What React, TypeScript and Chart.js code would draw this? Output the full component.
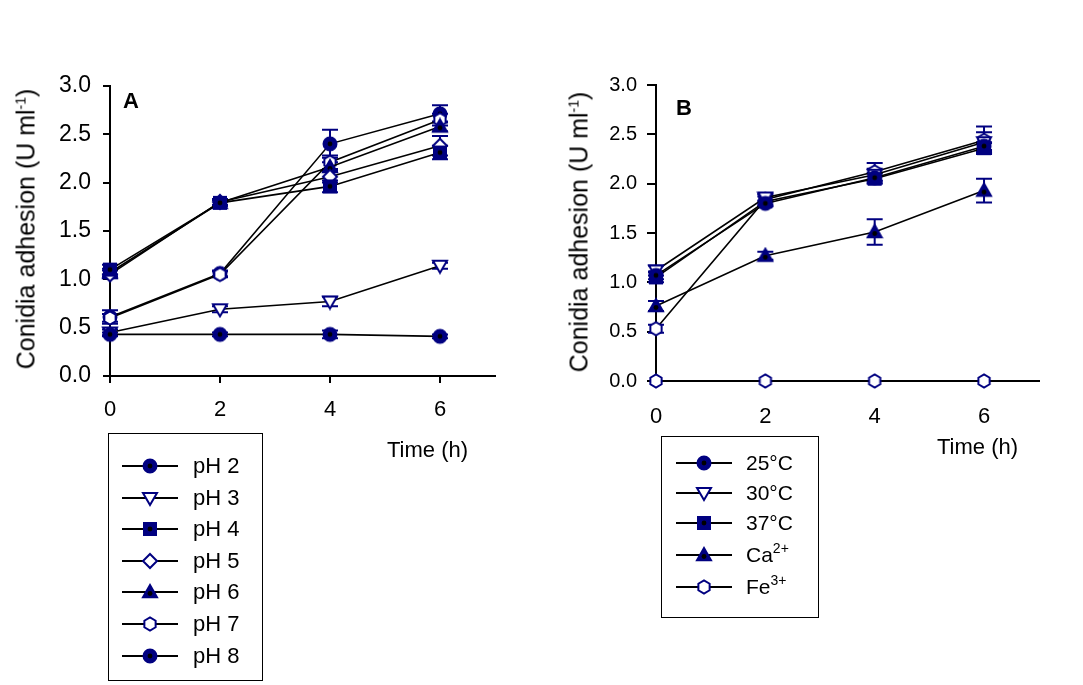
import React, { useEffect, useRef } from "react";
import { Chart, registerables } from "chart.js";
Chart.register(...registerables);

// ---------------- DATA ----------------
const timePoints = [0, 2, 4, 6];
const xTickValues = [0, 2, 4, 6];
const yTickValues = [0, 0.5, 1, 1.5, 2, 2.5, 3];

// Panel A (pH)
const phLabels = ["pH 2", "pH 3", "pH 4", "pH 5", "pH 6", "pH 7", "pH 8"];
const phMarkers = ["circle", "triangleDown", "square", "diamond", "triangle", "hexagon", "circle"];
const pH2 = [0.43, 0.43, 0.43, 0.41];
const pH3 = [0.45, 0.69, 0.77, 1.14];
const pH4 = [1.1, 1.79, 1.96, 2.31];
const pH5 = [1.05, 1.8, 2.06, 2.38];
const pH6 = [1.07, 1.79, 2.16, 2.58];
const pH7 = [0.6, 1.05, 2.21, 2.65];
const pH8 = [0.61, 1.06, 2.4, 2.71];
const pH2Err = [0.02, 0.02, 0.04, 0.02];
const pH3Err = [0.03, 0.03, 0.05, 0.03];
const pH4Err = [0.05, 0.03, 0.06, 0.07];
const pH5Err = [0.04, 0.03, 0.06, 0.1];
const pH6Err = [0.04, 0.03, 0.05, 0.05];
const pH7Err = [0.04, 0.03, 0.07, 0.06];
const pH8Err = [0.07, 0.03, 0.145, 0.09];

// Panel B (temperature / ions)
const condLabels = ["25°C", "30°C", "37°C", "Ca", "Fe"];
const condSup = ["", "", "", "2+", "3+"];
const condMarkers = ["circle", "triangleDown", "square", "triangle", "hexagon"];
const t25 = [1.07, 1.8, 2.06, 2.38];
const t30 = [1.12, 1.86, 2.09, 2.42];
const t37 = [1.05, 1.82, 2.05, 2.36];
const ca = [0.76, 1.27, 1.51, 1.93];
const fe = [0.53, 1.84, 2.12, 2.44];
const control = [0, 0, 0, 0];
const t25Err = [0.04, 0.03, 0.05, 0.04];
const t30Err = [0.05, 0.04, 0.06, 0.1];
const t37Err = [0.05, 0.05, 0.05, 0.05];
const caErr = [0.05, 0.04, 0.13, 0.12];
const feErr = [0.04, 0.05, 0.09, 0.14];
const controlErr = [0, 0, 0, 0];

const NAVY = "#000080";
const FONT = "'Liberation Sans', Arial, sans-serif";

// ---------------- MARKERS ----------------
function drawMarker(ctx: CanvasRenderingContext2D, kind: string, cx: number, cy: number, r: number) {
  ctx.save();
  ctx.lineWidth = 2;
  ctx.strokeStyle = NAVY;
  const filled = kind === "circle" || kind === "square" || kind === "triangle";
  ctx.fillStyle = filled ? NAVY : "#ffffff";
  ctx.beginPath();
  if (kind === "circle") {
    ctx.arc(cx, cy, r - 0.5, 0, Math.PI * 2);
  } else if (kind === "square") {
    ctx.rect(cx - r + 1, cy - r + 1, 2 * r - 2, 2 * r - 2);
  } else if (kind === "triangle") {
    ctx.moveTo(cx, cy - r);
    ctx.lineTo(cx + r, cy + r * 0.75);
    ctx.lineTo(cx - r, cy + r * 0.75);
    ctx.closePath();
  } else if (kind === "triangleDown") {
    ctx.moveTo(cx, cy + r);
    ctx.lineTo(cx + r, cy - r * 0.7);
    ctx.lineTo(cx - r, cy - r * 0.7);
    ctx.closePath();
  } else if (kind === "diamond") {
    ctx.moveTo(cx, cy - r);
    ctx.lineTo(cx + r, cy);
    ctx.lineTo(cx, cy + r);
    ctx.lineTo(cx - r, cy);
    ctx.closePath();
  } else if (kind === "hexagon") {
    for (let i = 0; i < 6; i++) {
      const a = Math.PI / 6 + (i * Math.PI) / 3;
      const px = cx + (r - 0.5) * Math.cos(a);
      const py = cy + (r - 0.5) * Math.sin(a);
      if (i === 0) ctx.moveTo(px, py);
      else ctx.lineTo(px, py);
    }
    ctx.closePath();
  }
  ctx.fill();
  ctx.stroke();
  if (filled) {
    ctx.fillStyle = "#000000";
    ctx.beginPath();
    ctx.arc(cx, kind === "triangle" ? cy + 1.5 : cy, r * 0.35, 0, Math.PI * 2);
    ctx.fill();
  }
  ctx.restore();
}

function markerImage(kind: string, r: number): HTMLCanvasElement {
  const c = document.createElement("canvas");
  const s = 2 * r + 4;
  c.width = s;
  c.height = s;
  const ctx = c.getContext("2d")!;
  drawMarker(ctx, kind, s / 2, s / 2, r);
  return c;
}

// ---------------- PLUGINS ----------------
const errorBarPlugin = {
  id: "errorBars",
  beforeDatasetsDraw(chart: any) {
    const ctx = chart.ctx;
    const xs = chart.scales.x;
    const ys = chart.scales.y;
    ctx.save();
    ctx.strokeStyle = NAVY;
    ctx.lineWidth = 2;
    chart.data.datasets.forEach((ds: any) => {
      const errs: number[] = ds.errors || [];
      ds.data.forEach((pt: any, i: number) => {
        const e = errs[i];
        if (!e) return;
        const x = xs.getPixelForValue(pt.x);
        const yTop = ys.getPixelForValue(pt.y + e);
        const yBot = ys.getPixelForValue(pt.y - e);
        ctx.beginPath();
        ctx.moveTo(x, yTop);
        ctx.lineTo(x, yBot);
        ctx.moveTo(x - 8, yTop);
        ctx.lineTo(x + 8, yTop);
        ctx.moveTo(x - 8, yBot);
        ctx.lineTo(x + 8, yBot);
        ctx.stroke();
      });
    });
    ctx.restore();
  },
};

function makeDataset(label: string, values: number[], errs: number[], kind: string) {
  const img = markerImage(kind, 7);
  return {
    label,
    data: timePoints.map((t, i) => ({ x: t, y: values[i] })),
    errors: errs,
    borderColor: "#000000",
    borderWidth: 1.6,
    pointStyle: img,
    pointRadius: 7,
    pointHoverRadius: 7,
    showLine: true,
    fill: false,
    clip: false,
    tension: 0,
  };
}

function axisOptions(opts: {
  yWidth: number;
  xHeight: number;
  yFont: number;
  xFont: number;
  yPad: number;
  xPad: number;
  yTickLen: number;
}) {
  return {
    x: {
      type: "linear",
      min: 0,
      max: 7,
      afterBuildTicks: (s: any) => {
        s.ticks = xTickValues.map((v) => ({ value: v }));
      },
      afterFit: (s: any) => {
        s.height = opts.xHeight;
      },
      border: { display: true, color: "#000", width: 2 },
      grid: {
        display: true,
        drawOnChartArea: false,
        drawTicks: true,
        tickLength: 7,
        color: "#000",
        lineWidth: 2,
      },
      ticks: {
        color: "#000",
        font: { family: FONT, size: opts.xFont },
        padding: opts.xPad,
        maxRotation: 0,
        callback: (v: any) => String(v),
      },
    },
    y: {
      type: "linear",
      min: 0,
      max: 3,
      afterBuildTicks: (s: any) => {
        s.ticks = yTickValues.map((v) => ({ value: v }));
      },
      afterFit: (s: any) => {
        s.width = opts.yWidth;
      },
      border: { display: true, color: "#000", width: 2 },
      grid: {
        display: true,
        drawOnChartArea: false,
        drawTicks: true,
        tickLength: opts.yTickLen,
        color: "#000",
        lineWidth: 2,
      },
      ticks: {
        color: "#000",
        font: { family: FONT, size: opts.yFont },
        padding: opts.yPad,
        callback: (v: any) => Number(v).toFixed(1),
      },
    },
  };
}

function useChart(ref: React.RefObject<HTMLCanvasElement>, build: () => any) {
  useEffect(() => {
    if (!ref.current) return;
    const chart = new Chart(ref.current, build());
    return () => chart.destroy();
  }, []);
}

// ---------------- LEGEND ROW ----------------
function LegendSymbol({ kind }: { kind: string }) {
  const ref = useRef<HTMLCanvasElement>(null);
  useEffect(() => {
    const c = ref.current;
    if (!c) return;
    const ctx = c.getContext("2d")!;
    ctx.clearRect(0, 0, c.width, c.height);
    ctx.strokeStyle = "#000";
    ctx.lineWidth = 2;
    ctx.beginPath();
    ctx.moveTo(0, 10);
    ctx.lineTo(56, 10);
    ctx.stroke();
    drawMarker(ctx, kind, 28, 10, 7);
  }, [kind]);
  return <canvas ref={ref} width={56} height={20} />;
}

export default function App() {
  const refA = useRef<HTMLCanvasElement>(null);
  const refB = useRef<HTMLCanvasElement>(null);

  useChart(refA, () => ({
    type: "scatter",
    data: {
      datasets: [
        makeDataset(phLabels[0], pH2, pH2Err, phMarkers[0]),
        makeDataset(phLabels[1], pH3, pH3Err, phMarkers[1]),
        makeDataset(phLabels[2], pH4, pH4Err, phMarkers[2]),
        makeDataset(phLabels[3], pH5, pH5Err, phMarkers[3]),
        makeDataset(phLabels[4], pH6, pH6Err, phMarkers[4]),
        makeDataset(phLabels[5], pH7, pH7Err, phMarkers[5]),
        makeDataset(phLabels[6], pH8, pH8Err, phMarkers[6]),
      ],
    },
    options: {
      responsive: false,
      animation: false,
      devicePixelRatio: 1,
      layout: { padding: { left: 0, top: 20.7, right: 25, bottom: 0 } },
      plugins: { legend: { display: false }, tooltip: { enabled: false } },
      scales: axisOptions({ yWidth: 110, xHeight: 74, yFont: 23, xFont: 22, yPad: 12, xPad: 14, yTickLen: 7 }),
    },
    plugins: [errorBarPlugin],
  }));

  useChart(refB, () => ({
    type: "scatter",
    data: {
      datasets: [
        makeDataset("Control", control, controlErr, "hexagon"),
        makeDataset(condLabels[0], t25, t25Err, condMarkers[0]),
        makeDataset(condLabels[1], t30, t30Err, condMarkers[1]),
        makeDataset(condLabels[2], t37, t37Err, condMarkers[2]),
        makeDataset(condLabels[3] + condSup[3], ca, caErr, condMarkers[3]),
        makeDataset(condLabels[4] + condSup[4], fe, feErr, condMarkers[4]),
      ],
    },
    options: {
      responsive: false,
      animation: false,
      devicePixelRatio: 1,
      layout: { padding: { left: 0, top: 25, right: 21.3, bottom: 0 } },
      plugins: { legend: { display: false }, tooltip: { enabled: false } },
      scales: axisOptions({ yWidth: 116, xHeight: 69, yFont: 20, xFont: 22, yPad: 10, xPad: 16, yTickLen: 9 }),
    },
    plugins: [errorBarPlugin],
  }));

  const txt: React.CSSProperties = { fontFamily: FONT, color: "#000", position: "absolute", whiteSpace: "nowrap" };
  const yTitle = (cx: number, cy: number) => (
    <div
      style={{
        ...txt,
        left: cx,
        top: cy,
        fontSize: 25,
        lineHeight: "25px",
        transform: "translate(-50%, -50%) rotate(-90deg)",
      }}
    >
      Conidia adhesion (U ml<sup style={{ fontSize: 14, verticalAlign: "9px", lineHeight: 0 }}>-1</sup>)
    </div>
  );

  return (
    <div style={{ position: "absolute", left: 0, top: 0, width: 1083, height: 685, background: "#fff", overflow: "hidden" }}>
      <canvas ref={refA} width={520} height={390} style={{ position: "absolute", left: 0, top: 60 }} />
      <canvas ref={refB} width={520} height={390} style={{ position: "absolute", left: 540, top: 60 }} />

      {yTitle(26, 229)}
      {yTitle(579, 232)}

      <div style={{ ...txt, left: 123, top: 88, fontSize: 22, fontWeight: "bold" }}>A</div>
      <div style={{ ...txt, left: 676, top: 95, fontSize: 22, fontWeight: "bold" }}>B</div>

      <div style={{ ...txt, left: 387, top: 437, fontSize: 22 }}>Time (h)</div>
      <div style={{ ...txt, left: 937, top: 434, fontSize: 22 }}>Time (h)</div>

      <div style={{ position: "absolute", left: 108, top: 433, width: 153, height: 246, border: "1px solid #000" }}>
        {phLabels.map((lab, i) => (
          <div key={lab} style={{ position: "absolute", left: 13, top: 22 + i * 31.6, height: 20, display: "flex", alignItems: "center" }}>
            <LegendSymbol kind={phMarkers[i]} />
            <span style={{ fontFamily: FONT, fontSize: 22, marginLeft: 15, lineHeight: "20px" }}>{lab}</span>
          </div>
        ))}
      </div>

      <div style={{ position: "absolute", left: 661, top: 436, width: 156, height: 180, border: "1px solid #000" }}>
        {condLabels.map((lab, i) => (
          <div key={lab} style={{ position: "absolute", left: 14, top: 16 + [0, 30, 60, 92, 124][i], height: 20, display: "flex", alignItems: "center" }}>
            <LegendSymbol kind={condMarkers[i]} />
            <span style={{ fontFamily: FONT, fontSize: 21, marginLeft: 14, lineHeight: "20px" }}>
              {lab}
              {condSup[i] ? (
                <sup style={{ fontSize: 14, verticalAlign: "9px", lineHeight: 0 }}>{condSup[i]}</sup>
              ) : null}
            </span>
          </div>
        ))}
      </div>
    </div>
  );
}
